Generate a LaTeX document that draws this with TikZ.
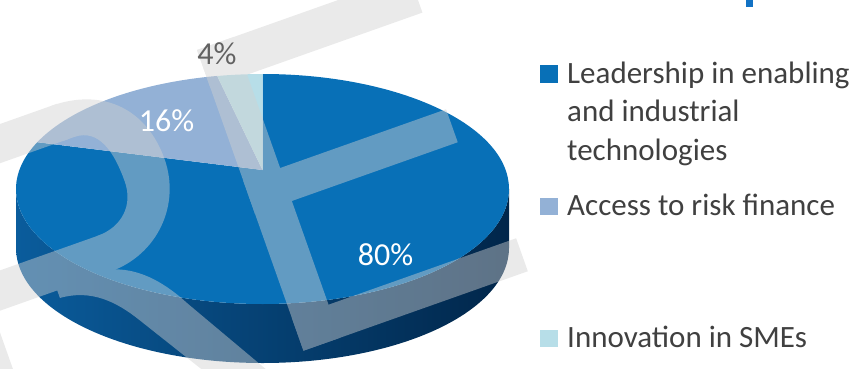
\documentclass[tikz,border=0pt]{standalone}
\usepackage{fontspec}
\setmainfont{Carlito}
\definecolor{cA}{HTML}{0870B7}
\definecolor{cB}{HTML}{93B1D6}
\definecolor{cC}{HTML}{B7DEE8}
\definecolor{sideL}{HTML}{0A5C9C}
\definecolor{sideR}{HTML}{01264A}
\definecolor{wm}{HTML}{D1D1D1}
\definecolor{legtext}{HTML}{404040}
\definecolor{lbl}{HTML}{626262}
\definecolor{titleblue}{HTML}{1272C4}
\tikzset{
  legsq/.style={minimum size=17.7pt, inner sep=0pt, outer sep=0pt},
  legtxt/.style={anchor=base west, inner sep=0pt, text=legtext, font=\fontsize{31}{37}\selectfont},
  pielbl/.style={inner sep=0pt, font=\fontsize{32}{38}\selectfont}
}
\begin{document}
\begin{tikzpicture}[x=1pt,y=1pt]
\useasboundingbox (0,0) rectangle (856,-369);
\clip (0,0) rectangle (856,-369);
\def\rx{246.5}
\def\ry{115}
\coordinate (T) at (262.5,-170);
% side of the pie
\shade[left color=sideL, right color=sideR]
  (16,-189) arc[start angle=180,end angle=360,x radius=\rx,y radius=\ry]
  -- ++(0,-59) arc[start angle=0,end angle=-180,x radius=\rx,y radius=\ry] -- cycle;
% top slices
\fill[cA] (T) -- (262.5,-74) arc[start angle=90,end angle=-204,x radius=\rx,y radius=\ry] -- cycle;
\fill[cB] (T) -- (37.3,-142.2) arc[start angle=156,end angle=100.6,x radius=\rx,y radius=\ry] -- cycle;
\fill[cC] (T) -- (217.2,-76) arc[start angle=100.6,end angle=90,x radius=\rx,y radius=\ry] -- cycle;
% watermark
\begin{scope}[transparency group, opacity=0.45]
\begin{scope}[shift={(197,-50)}, rotate=19.5]
  % E
  \fill[wm] (0,0) rectangle (39,-319);
  \fill[wm] (0,0) rectangle (225,-40);
  \fill[wm] (0,-139) rectangle (215,-174);
  \fill[wm] (0,-284) rectangle (238,-319);
  % R
  \fill[wm] (-322,0) rectangle (-280,-319);
  \fill[wm] (-322,-4) rectangle (-150,-41);
  \fill[wm] (-322,-142) rectangle (-150,-180);
  \fill[wm] (-156,-4) .. controls (-100,-4) and (-67,-40) .. (-67,-92)
     .. controls (-67,-140) and (-105,-180) .. (-156,-180)
     -- (-156,-142) .. controls (-130,-142) and (-112,-125) .. (-112,-100)
     .. controls (-112,-70) and (-118,-41) .. (-145,-41) -- (-156,-41) -- cycle;
  \fill[wm] (-212,-178) -- (-155,-178) .. controls (-130,-185) and (-110,-205) .. (-94,-235)
     -- (-38,-330) -- (-85,-330) -- (-144,-236)
     .. controls (-160,-210) and (-180,-190) .. (-212,-188) -- cycle;
\end{scope}
\end{scope}
% title fragment
\fill[titleblue] (746,0) rectangle (753,-7);
% pie labels
\node[pielbl, text=white] (l80) at (385.5,-255) {80\%};
\node[pielbl, text=white] (l16) at (166.5,-120.5) {16\%};
\node[pielbl, text=lbl] (l4) at (217,-54) {4\%};
% legend
\node[legsq, fill=cA] (s1) at (548.85,-73.85) {};
\node[legsq, fill=cB] (s2) at (548.85,-206.35) {};
\node[legsq, fill=cC] (s3) at (548.85,-338.35) {};
\node[legtxt] (t1a) at (567,-83.3) {Leadership in enabling};
\node[legtxt] (t1b) at (567,-121.7) {and industrial};
\node[legtxt] (t1c) at (567,-160) {technologies};
\node[legtxt] (t2) at (567,-215) {Access to risk finance};
\node[legtxt] (t3) at (567,-347) {Innovation in SMEs};
\end{tikzpicture}
\end{document}
